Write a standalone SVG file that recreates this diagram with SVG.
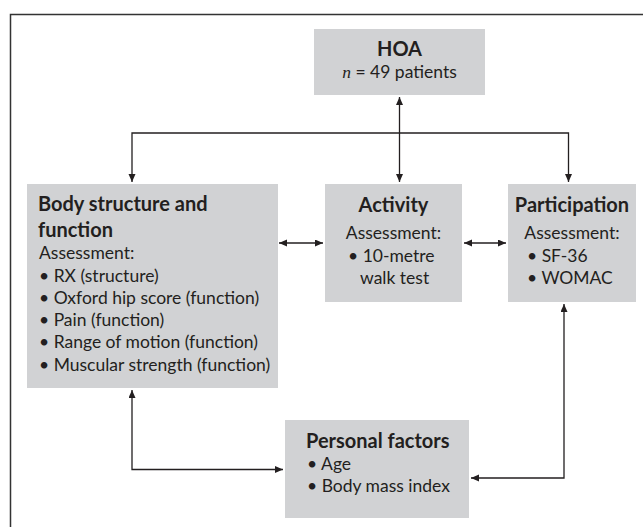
<svg xmlns="http://www.w3.org/2000/svg" width="643" height="527" viewBox="0 0 643 527">
<defs>
<marker id="ah" markerUnits="userSpaceOnUse" markerWidth="9" markerHeight="8" refX="8" refY="3.5" orient="auto-start-reverse">
<path d="M0,0 L8,3.5 L0,7 z" fill="#231f20"/>
</marker>
<style>
.box{fill:#d1d2d4;}
.h{font-family:Lato,"Open Sans",sans-serif;font-weight:bold;font-size:20px;fill:#231f20;}
.t{font-family:Lato,"Open Sans",sans-serif;font-size:17.5px;fill:#231f20;}
.c{text-anchor:middle;}
.ln{fill:none;stroke:#231f20;stroke-width:1.3;marker-start:url(#ah);marker-end:url(#ah);}
.frame{fill:none;stroke:#333;stroke-width:1.5;}
</style>
</defs>
<rect width="643" height="527" fill="#fff"/>
<path class="frame" d="M10.5,527 V14.5 H643"/>
<g id="hoa">
<rect class="box" x="314" y="29" width="171" height="66"/>
<text class="h c" x="399.5" y="56">HOA</text>
<text class="t c" x="399.5" y="77.5"><tspan font-family="'Liberation Serif',serif" font-style="italic">n</tspan> = 49 patients</text>
</g>
<g id="body">
<rect class="box" x="27" y="184" width="251" height="204"/>
<text class="h" x="38" y="210.5">Body structure and</text>
<text class="h" x="38" y="236.5">function</text>
<text class="t" x="39" y="259">Assessment:</text>
<text class="t" x="39" y="281.5">• RX (structure)</text>
<text class="t" x="39" y="303.8">• Oxford hip score (function)</text>
<text class="t" x="39" y="326.1">• Pain (function)</text>
<text class="t" x="39" y="348.4">• Range of motion (function)</text>
<text class="t" x="39" y="370.7">• Muscular strength (function)</text>
</g>
<g id="activity">
<rect class="box" x="325" y="184" width="137" height="118"/>
<text class="h c" x="393.5" y="212">Activity</text>
<text class="t c" x="393.5" y="238.5">Assessment:</text>
<text class="t" x="348" y="261.7">• 10-metre</text>
<text class="t" x="360" y="284.3">walk test</text>
</g>
<g id="participation">
<rect class="box" x="508" y="184" width="128" height="118"/>
<text class="h c" x="572" y="212">Participation</text>
<text class="t c" x="572" y="238.5">Assessment:</text>
<text class="t" x="527" y="261.7">• SF-36</text>
<text class="t" x="527" y="284.3">• WOMAC</text>
</g>
<g id="personal">
<rect class="box" x="285" y="420" width="184" height="98"/>
<text class="h" x="306" y="448.3">Personal factors</text>
<text class="t" x="307" y="470">• Age</text>
<text class="t" x="307" y="492.3">• Body mass index</text>
</g>
<g id="connectors">
<path class="ln" d="M399.5,97 V182"/>
<path class="ln" d="M132,182 V133 H568.5 V182"/>
<path class="ln" d="M279,243 H323"/>
<path class="ln" d="M464,243 H506"/>
<path class="ln" d="M132,390 V469.5 H283"/>
<path class="ln" d="M564,304 V478 H471"/>
</g>
</svg>
